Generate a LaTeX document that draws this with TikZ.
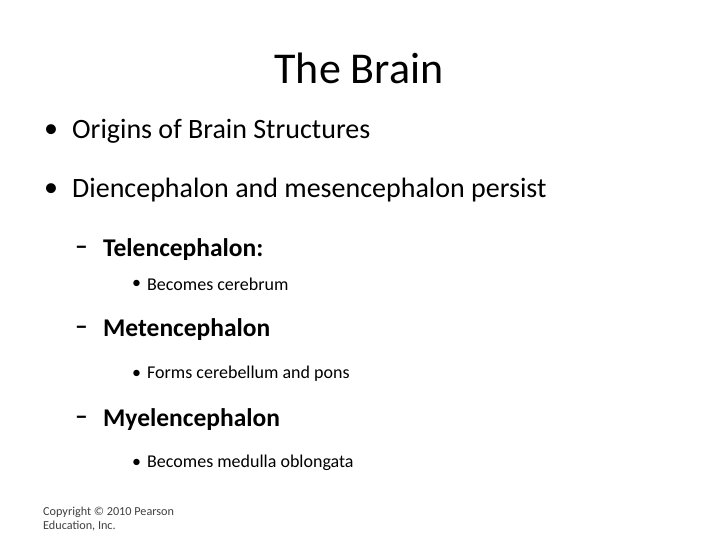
\documentclass[tikz,border=0pt]{standalone}
\usepackage{fontspec}
\setmainfont{Carlito}
\begin{document}
\begin{tikzpicture}[x=1pt,y=-1pt,
  t/.style={anchor=west,inner sep=0pt},
  l1/.style={t,font=\fontsize{28}{32}\selectfont},
  l2/.style={t,font=\fontsize{25.5}{30}\selectfont\bfseries},
  l3/.style={t,font=\fontsize{18}{22}\selectfont}]
\fill[white] (0,0) rectangle (720,540);
\node[inner sep=0pt,font=\fontsize{44}{48}\selectfont] (title) at (359,68) {The Brain};
\node[l1] (b1d) at (44,131) {•};
\node[l1] (b1) at (72,131) {Origins of Brain Structures};
\node[l1] (b2d) at (44,190) {•};
\node[l1] (b2) at (72,190) {Diencephalon and mesencephalon persist};
\node[l2] (s1d) at (75,250) {–};
\node[l2] (s1) at (103,250) {Telencephalon:};
\node[l3] (t1d) at (132,284) {•};
\node[l3] (t1) at (147,284) {Becomes cerebrum};
\node[l2] (s2d) at (75,330) {–};
\node[l2] (s2) at (103,330) {Metencephalon};
\node[l3] (t2d) at (132,374) {•};
\node[l3] (t2) at (147,374) {Forms cerebellum and pons};
\node[l2] (s3d) at (75,420) {–};
\node[l2] (s3) at (103,420) {Myelencephalon};
\node[l3] (t3d) at (132,463) {•};
\node[l3] (t3) at (147,463) {Becomes medulla oblongata};
\node[t,anchor=north west,align=left,font=\fontsize{12.2}{13.5}\selectfont,text=black!75] (c) at (43,507) {Copyright © 2010 Pearson\\Education, Inc.};
\end{tikzpicture}
\end{document}
